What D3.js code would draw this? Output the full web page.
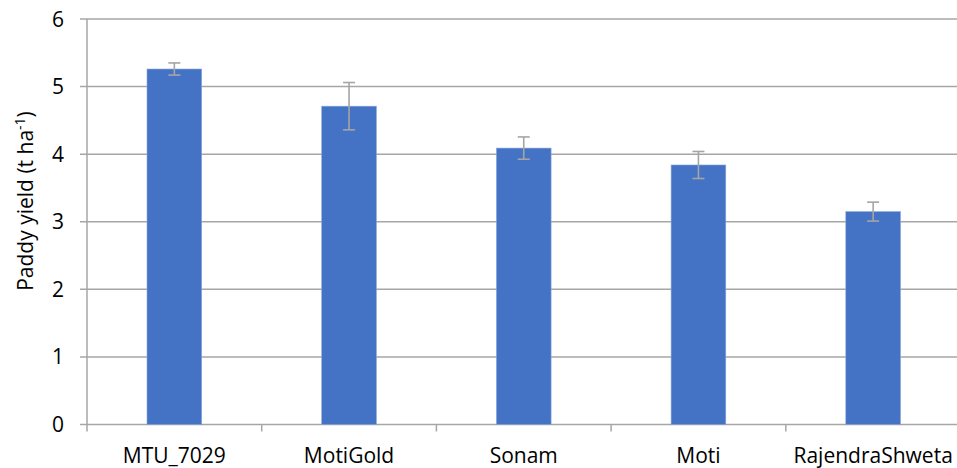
<!DOCTYPE html>
<html>
<head>
<meta charset="utf-8">
<script src="https://cdn.jsdelivr.net/npm/d3@7"></script>
<style>
  body { margin: 0; background: #fff; }
  svg text { font-family: "Open Sans", "Noto Sans", sans-serif; fill: #000; }
</style>
</head>
<body>
<svg id="chart" width="957" height="468"></svg>
<script>
// Paddy yield by variety, with error bars
const varieties = ["MTU_7029", "MotiGold", "Sonam", "Moti", "RajendraShweta"];
const yieldMean = [5.26, 4.71, 4.09, 3.84, 3.15];
const yieldErr  = [0.09, 0.35, 0.165, 0.20, 0.14];
const yTicks = [0, 1, 2, 3, 4, 5, 6];

const svg = d3.select("#chart");
const margin = { left: 87, top: 19, bottom: 43.5 };
const W = 957, H = 468;
const plotW = 5 * 174.7;

const x = d3.scaleBand().domain(varieties).range([margin.left, margin.left + plotW]).paddingInner(0.687).paddingOuter(0.3435);
const y = d3.scaleLinear().domain([0, 6]).range([H - margin.bottom, margin.top]);

const gridColor = "#a6a6a6";

// horizontal gridlines
svg.append("g").selectAll("line").data(yTicks).join("line")
  .attr("x1", margin.left - 7).attr("x2", margin.left + plotW)
  .attr("y1", d => y(d)).attr("y2", d => y(d))
  .attr("stroke", gridColor).attr("stroke-width", 1.5);

// y axis line
svg.append("line")
  .attr("x1", margin.left).attr("x2", margin.left)
  .attr("y1", y(6)).attr("y2", y(0) + 7)
  .attr("stroke", gridColor).attr("stroke-width", 1.5);

// category separators on the x axis
svg.append("g").selectAll("line").data(d3.range(1, varieties.length + 1)).join("line")
  .attr("x1", i => margin.left + i * plotW / varieties.length)
  .attr("x2", i => margin.left + i * plotW / varieties.length)
  .attr("y1", y(0)).attr("y2", y(0) + 7)
  .attr("stroke", gridColor).attr("stroke-width", 1.5);

// bars
svg.append("g").selectAll("rect").data(varieties).join("rect")
  .attr("x", d => x(d))
  .attr("width", x.bandwidth())
  .attr("y", (d, i) => y(yieldMean[i]))
  .attr("height", (d, i) => y(0) - y(yieldMean[i]))
  .attr("fill", "#4472c4")
  .attr("stroke", "#8aa6da").attr("stroke-width", 0.6);

// error bars
const errG = svg.append("g").attr("stroke", "#a5a5a5").attr("stroke-width", 1.6);
varieties.forEach((d, i) => {
  const cx = x(d) + x.bandwidth() / 2;
  const top = y(yieldMean[i] + yieldErr[i]);
  const bot = y(yieldMean[i] - yieldErr[i]);
  errG.append("line").attr("x1", cx).attr("x2", cx).attr("y1", top).attr("y2", bot);
  errG.append("line").attr("x1", cx - 6).attr("x2", cx + 6).attr("y1", top).attr("y2", top);
  errG.append("line").attr("x1", cx - 6).attr("x2", cx + 6).attr("y1", bot).attr("y2", bot);
});

// y tick labels
svg.append("g").selectAll("text").data(yTicks).join("text")
  .attr("x", 64).attr("y", d => y(d)).attr("dy", "0.36em")
  .attr("text-anchor", "end").attr("font-size", 21)
  .text(d => d);

// x tick labels
svg.append("g").selectAll("text").data(varieties).join("text")
  .attr("x", d => x(d) + x.bandwidth() / 2).attr("y", 463)
  .attr("text-anchor", "middle").attr("font-size", 21)
  .text(d => d);

// y axis title
const title = svg.append("text")
  .attr("transform", "translate(33,201) rotate(-90)")
  .attr("text-anchor", "middle").attr("font-size", 21);
title.append("tspan").text("Paddy yield (t ha");
title.append("tspan").attr("font-size", 14).attr("dy", -8).text("-1");
title.append("tspan").attr("dy", 8).text(")");
</script>
</body>
</html>
